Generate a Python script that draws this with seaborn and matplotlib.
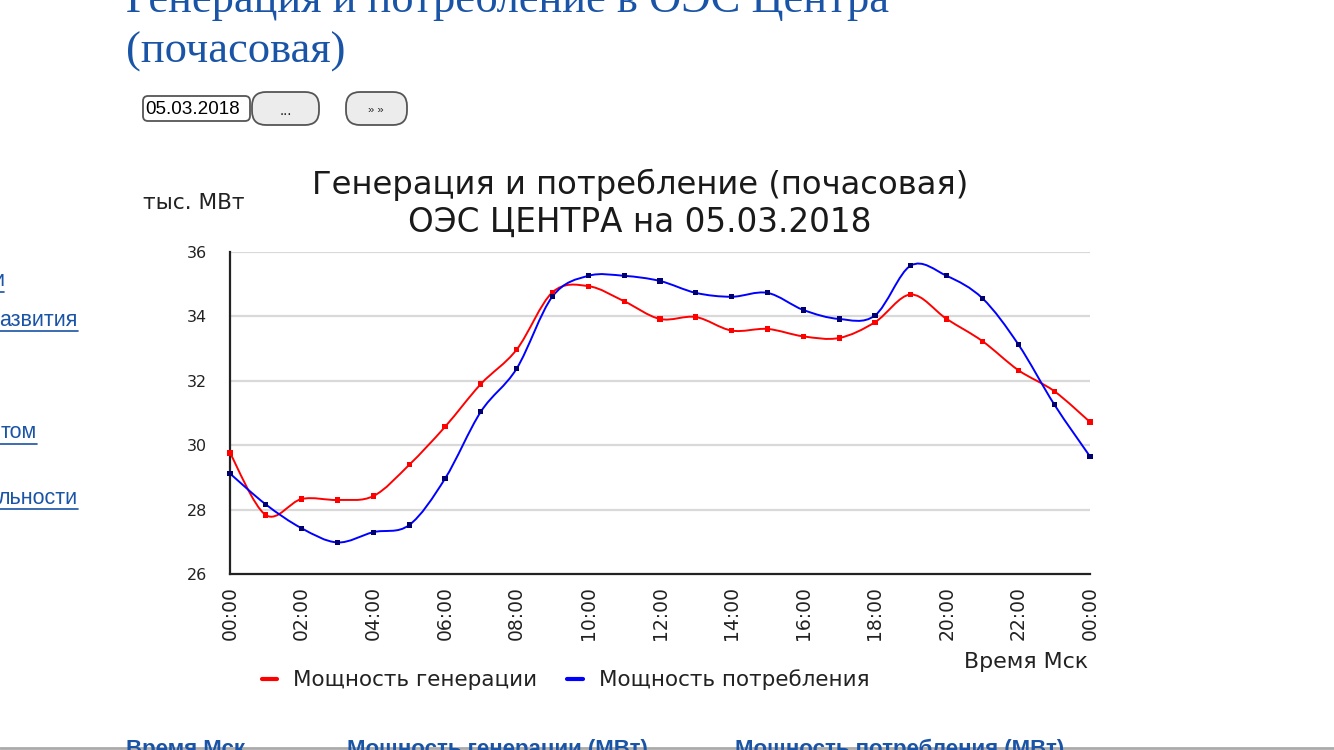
import numpy as np
import pandas as pd
import matplotlib
matplotlib.use("Agg")
import matplotlib.pyplot as plt
import seaborn as sns
from matplotlib.path import Path
from matplotlib.patches import PathPatch, FancyBboxPatch
from matplotlib.lines import Line2D

# ---------------- data ----------------
hours = list(range(25))
x_tick_labels = ["00:00", "02:00", "04:00", "06:00", "08:00", "10:00", "12:00",
                 "14:00", "16:00", "18:00", "20:00", "22:00", "00:00"]
y_ticks = [26, 28, 30, 32, 34, 36]
generation = [29.76, 27.83, 28.33, 28.30, 28.42, 29.39, 30.57, 31.90, 32.97,
              34.75, 34.94, 34.47, 33.92, 33.98, 33.56, 33.61, 33.38, 33.33,
              33.82, 34.68, 33.92, 33.23, 32.33, 31.68, 30.72]
consumption = [29.12, 28.16, 27.42, 26.98, 27.30, 27.52, 28.96, 31.04, 32.38,
               34.62, 35.26, 35.26, 35.10, 34.73, 34.61, 34.73, 34.20, 33.92,
               34.03, 35.58, 35.26, 34.56, 33.13, 31.27, 29.65]
series_names = ["Мощность генерации", "Мощность потребления"]
line_colors = ["#ff0000", "#0000ff"]
marker_colors = ["#ff0000", "#000070"]

df = pd.DataFrame({"hour": hours * 2,
                   "value": generation + consumption,
                   "series": [series_names[0]] * 25 + [series_names[1]] * 25})

W, H = 1334, 750
fig = plt.figure(figsize=(W / 100, H / 100), dpi=100)
sns.set_style("white")
plt.rcParams["font.family"] = ["DejaVu Sans"]

def fx(x):
    return x / W

def fy(y):
    return 1 - y / H

ax = fig.add_axes([fx(230), fy(574), fx(1090) - fx(230), fy(252) - fy(574)])
ax.set_xlim(0, 24)
ax.set_ylim(26, 36)

# grid
for v in y_ticks[1:]:
    ax.axhline(v, color="#d9d9d9", lw=1.6, zorder=0)

# smooth curves (Catmull-Rom as cubic Bezier path)
def smooth_path(xs, ys):
    pts = np.column_stack([xs, ys]).astype(float)
    verts = [pts[0]]
    codes = [Path.MOVETO]
    n = len(pts)
    for i in range(n - 1):
        p0 = pts[i - 1] if i > 0 else pts[i]
        p1 = pts[i]
        p2 = pts[i + 1]
        p3 = pts[i + 2] if i + 2 < n else pts[i + 1]
        c1 = p1 + (p2 - p0) / 6.0
        c2 = p2 - (p3 - p1) / 6.0
        verts += [c1, c2, p2]
        codes += [Path.CURVE4] * 3
    return Path(verts, codes)

for name, lc in zip(series_names, line_colors):
    sub = df[df.series == name]
    patch = PathPatch(smooth_path(sub.hour.values, sub.value.values),
                      facecolor="none", edgecolor=lc, lw=1.4, zorder=3)
    ax.add_patch(patch)

sns.scatterplot(data=df, x="hour", y="value", hue="series",
                palette=dict(zip(series_names, marker_colors)),
                marker="s", s=14, linewidth=0, ax=ax, legend=False, zorder=4,
                clip_on=False)

# spines and ticks
for s in ["top", "right"]:
    ax.spines[s].set_visible(False)
for s in ["left", "bottom"]:
    ax.spines[s].set_color("#222222")
    ax.spines[s].set_linewidth(1.6)

ax.set_yticks(y_ticks)
ax.set_yticks(np.arange(27, 36, 2), minor=True)
ax.set_xticks(np.arange(0, 25, 2))
ax.set_xticklabels(x_tick_labels, rotation=90)
ax.set_xticks(np.arange(0, 24.5, 0.5), minor=True)
ax.tick_params(axis="y", which="both", direction="in", length=9, width=1.2,
               color="#222222", labelsize=11.5, labelcolor="#222222", pad=16.5)
ax.tick_params(axis="x", which="major", direction="in", length=10, width=1.2,
               color="#222222", labelsize=13.5, labelcolor="#222222", pad=9)
ax.tick_params(axis="x", which="minor", direction="in", length=5, width=1.2,
               color="#222222")
ax.set_xlabel("")
ax.set_ylabel("")
for lab in ax.get_xticklabels():
    lab.set_va("top")

# chart texts
fig.text(fx(640), fy(185), "Генерация и потребление (почасовая)", ha="center",
         va="center", fontsize=23.2, color="#1a1a1a")
fig.text(fx(640), fy(222), "ОЭС ЦЕНТРА на 05.03.2018", ha="center",
         va="center", fontsize=23.5, color="#1a1a1a")
fig.text(fx(143), fy(203), "тыс. МВт", ha="left", va="center", fontsize=15.6,
         color="#222222")
fig.text(fx(1088), fy(662), "Время Мск", ha="right", va="center", fontsize=15.9,
         color="#222222")

handles = [Line2D([0], [0], color=c, lw=3) for c in line_colors]
fig.legend(handles, series_names, loc="center left",
           bbox_to_anchor=(fx(262), fy(680)), ncol=2, frameon=False,
           fontsize=15.5, handlelength=0.7, handletextpad=0.75, columnspacing=1.4,
           borderpad=0, borderaxespad=0, labelcolor="#222222")

# ---------------- page elements ----------------
blue = "#1a54a6"
fig.text(fx(126), fy(12), "Генерация и потребление в ОЭС Центра", ha="left",
         va="baseline", fontsize=32, family="Liberation Serif", color=blue)
fig.text(fx(126), fy(63), "(почасовая)", ha="left", va="baseline", fontsize=32,
         family="Liberation Serif", color=blue)

# date input and buttons
def rounded(x0, y0, x1, y1, rad, fc, ec):
    p = FancyBboxPatch((fx(x0), fy(y1)), fx(x1) - fx(x0), fy(y0) - fy(y1),
                       boxstyle=f"round,pad=0,rounding_size={rad / W}",
                       transform=fig.transFigure, facecolor=fc, edgecolor=ec,
                       lw=1.3, mutation_aspect=W / H)
    fig.add_artist(p)

rounded(143, 96, 250, 121, 5, "white", "#555555")
fig.text(fx(145), fy(109), "05.03.2018", ha="left", va="center", fontsize=13.6,
         family="Liberation Sans", color="black")
rounded(252, 92, 319, 125, 14, "#ececec", "#555555")
fig.text(fx(286), fy(111), "...", ha="center", va="center", fontsize=11,
         family="Liberation Sans", color="#222222")
rounded(346, 92, 407, 125, 14, "#ececec", "#555555")
fig.text(fx(376), fy(110), "» »", ha="center", va="center", fontsize=8,
         family="Liberation Sans", color="#222222")

# left menu fragments
for txt, xr, yc in [("и", 4, 281), ("азвития", 78, 320), ("том", 37, 433),
                    ("льности", 78, 498)]:
    fig.text(fx(xr), fy(yc), txt, ha="right", va="center", fontsize=15.5,
             family="Liberation Sans", color=blue)
    fig.add_artist(Line2D([fx(0), fx(xr)], [fy(yc + 11), fy(yc + 11)],
                          transform=fig.transFigure, color=blue, lw=1.2))

# bottom table header fragments
for txt, x0 in [("Время Мск", 126), ("Мощность генерации (МВт)", 347),
                ("Мощность потребления (МВт)", 735)]:
    fig.text(fx(x0), fy(739), txt, ha="left", va="top", fontsize=16,
             family="Liberation Sans", weight="bold", color=blue)
fig.add_artist(Line2D([0, 1], [fy(748), fy(748)], transform=fig.transFigure,
                      color="#aaaaaa", lw=2))

fig.savefig("out.png", dpi=100)
